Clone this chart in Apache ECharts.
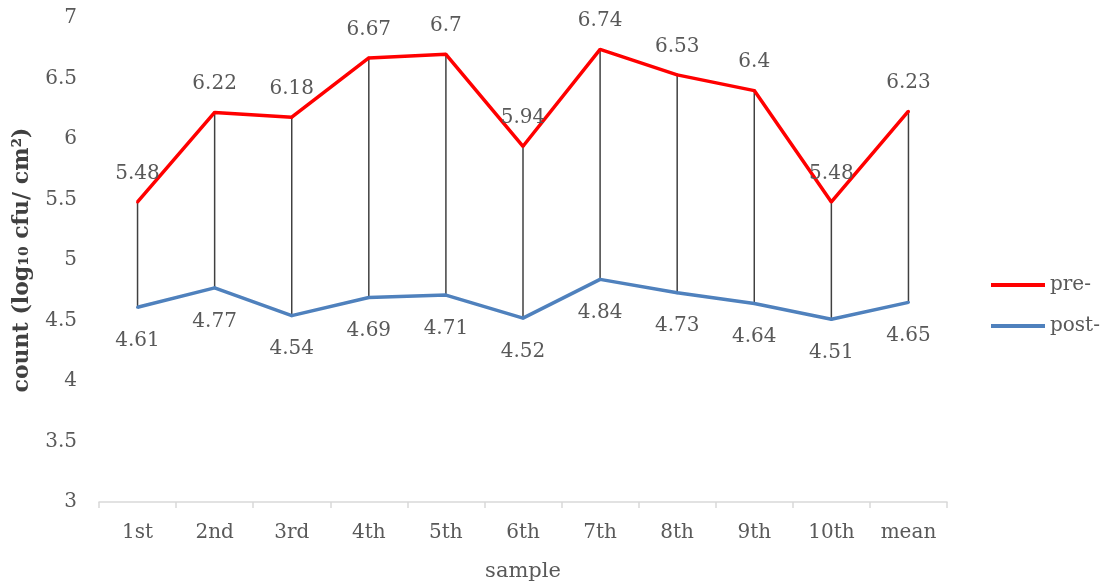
<!DOCTYPE html>
<html>
<head>
<meta charset="utf-8">
<script src="https://cdn.jsdelivr.net/npm/echarts@6/dist/echarts.min.js"></script>
<style>html,body{margin:0;padding:0;background:#fff;}#chart{width:1101px;height:586px;}</style>
</head>
<body>
<div id="chart"></div>
<script>
const categories = ['1st','2nd','3rd','4th','5th','6th','7th','8th','9th','10th','mean'];
const preValues = [5.48, 6.22, 6.18, 6.67, 6.7, 5.94, 6.74, 6.53, 6.4, 5.48, 6.23];
const postValues = [4.61, 4.77, 4.54, 4.69, 4.71, 4.52, 4.84, 4.73, 4.64, 4.51, 4.65];
const yTicks = [3, 3.5, 4, 4.5, 5, 5.5, 6, 6.5, 7];

const FONT = 'DejaVu Serif';
const TXT = '#595959';
const RED = '#ff0000';
const BLUE = '#4f81bd';
const chart = echarts.init(document.getElementById('chart'));
const dropData = categories.map((c, i) => [i, postValues[i], preValues[i]]);

chart.setOption({
  animation: false,
  textStyle: { fontFamily: FONT },
  grid: { left: 99, right: 154, top: 18, bottom: 84, outerBoundsMode: 'none' },
  legend: {
    orient: 'vertical',
    left: 986,
    top: 270,
    icon: 'rect',
    itemWidth: 54,
    itemHeight: 4,
    itemGap: 21,
    textStyle: { fontFamily: FONT, fontSize: 20, color: TXT },
    data: [
      { name: 'pre-', itemStyle: { color: RED } },
      { name: 'post-', itemStyle: { color: BLUE } }
    ]
  },
  xAxis: {
    type: 'category',
    data: categories,
    name: 'sample',
    nameLocation: 'middle',
    nameGap: 59,
    nameTextStyle: { fontFamily: FONT, fontSize: 21, color: TXT },
    axisLine: { lineStyle: { color: '#d9d9d9', width: 1.5 } },
    axisTick: { show: true, length: 6, lineStyle: { color: '#d9d9d9', width: 1.5 } },
    axisLabel: { fontFamily: FONT, fontSize: 20, color: TXT, margin: 21 }
  },
  yAxis: {
    type: 'value',
    min: yTicks[0],
    max: yTicks[yTicks.length - 1],
    interval: 0.5,
    name: 'count (log₁₀ cfu/ cm²)',
    nameLocation: 'middle',
    nameGap: 66,
    nameRotate: 90,
    nameTextStyle: { fontFamily: FONT, fontSize: 22, fontWeight: 'bold', color: '#404040' },
    splitLine: { show: false },
    axisLine: { show: false },
    axisTick: { show: false },
    axisLabel: { fontFamily: FONT, fontSize: 20, color: TXT, margin: 22 }
  },
  series: [
    {
      name: 'drop',
      type: 'custom',
      data: dropData,
      z: 1,
      silent: true,
      renderItem: function (params, api) {
        const p1 = api.coord([api.value(0), api.value(1)]);
        const p2 = api.coord([api.value(0), api.value(2)]);
        return {
          type: 'line',
          shape: { x1: p1[0], y1: p1[1], x2: p2[0], y2: p2[1] },
          style: { stroke: '#404040', lineWidth: 1.5 }
        };
      }
    },
    {
      name: 'pre-',
      type: 'line',
      data: preValues,
      symbol: 'circle',
      symbolSize: 3,
      showSymbol: true,
      z: 3,
      color: RED,
      itemStyle: { color: RED, borderWidth: 0 },
      lineStyle: { color: RED, width: 3.5 },
      label: { show: true, position: 'top', distance: 17, fontFamily: FONT, fontSize: 20, color: TXT }
    },
    {
      name: 'post-',
      type: 'line',
      data: postValues,
      symbol: 'circle',
      symbolSize: 3,
      showSymbol: true,
      z: 3,
      color: BLUE,
      itemStyle: { color: BLUE, borderWidth: 0 },
      lineStyle: { color: BLUE, width: 3.5 },
      label: { show: true, position: 'bottom', distance: 22, fontFamily: FONT, fontSize: 20, color: TXT }
    }
  ]
});
</script>
</body>
</html>
